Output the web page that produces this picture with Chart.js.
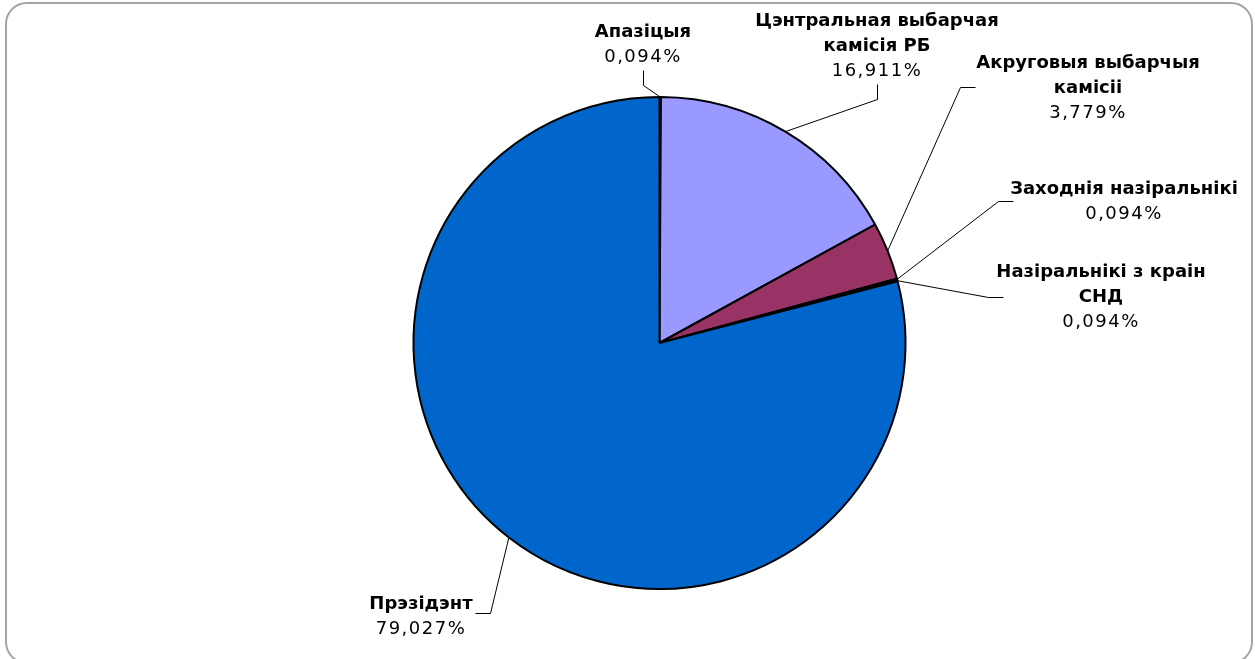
<!DOCTYPE html>
<html>
<head>
<meta charset="utf-8">
<script src="https://cdn.jsdelivr.net/npm/chart.js@4.4.1/dist/chart.umd.min.js"></script>
<style>
    body { margin: 0; background: #fff; overflow: hidden; }
    #wrap { position: relative; width: 1255px; height: 659px; }
    #frame {
        position: absolute; left: 5px; top: 2px; width: 1248px; height: 662px;
        border: 2px solid #a3a3a3; border-radius: 22px; box-sizing: border-box;
    }
    canvas { position: absolute; left: 0; top: 0; }
</style>
</head>
<body>
<div id="wrap">
    <div id="frame"></div>
    <canvas id="pieChart" width="1255" height="659"></canvas>
</div>
<script>
// Дадзеныя
const categories = [
    'Апазіцыя',
    'Цэнтральная выбарчая камісія РБ',
    'Акруговыя выбарчыя камісіі',
    'Заходнія назіральнікі',
    'Назіральнікі з краін СНД',
    'Прэзідэнт'
];
const shares = [0.094, 16.911, 3.779, 0.094, 0.094, 79.027];
const sliceColors = ['#FFFFCC', '#9999FF', '#993366', '#660066', '#800080', '#0066CC'];

// Размяшчэнне подпісаў: цэнтр першага радка, злом лініі, канец лініі, шырыня пераносу
const labelLayout = [
    { x: 643, y: 32, elbow: [643, 85], end: [643, 70], wrap: 200 },
    { x: 877, y: 21, elbow: [877, 99], end: [877, 84], wrap: 250 },
    { x: 1088, y: 63, elbow: [960, 87], end: [975, 87], wrap: 240 },
    { x: 1124, y: 189, elbow: [998, 201], end: [1013, 201], wrap: 260 },
    { x: 1101, y: 272, elbow: [988, 297], end: [1003, 297], wrap: 215 },
    { x: 421, y: 604, elbow: [490, 613], end: [475, 613], wrap: 200 }
];
const lineHeight = 25;
const boldFont = 'bold 18px "DejaVu Sans", Verdana, sans-serif';
const normalFont = '18px "DejaVu Sans", Verdana, sans-serif';

function formatShare(v) {
    return v.toFixed(3).replace('.', ',') + '%';
}

function wrapText(ctx, text, maxWidth) {
    const words = text.split(' ');
    const lines = [];
    let line = '';
    words.forEach(word => {
        const test = line ? line + ' ' + word : word;
        if (line && ctx.measureText(test).width > maxWidth) {
            lines.push(line);
            line = word;
        } else {
            line = test;
        }
    });
    if (line) lines.push(line);
    return lines;
}

// Подпісы з лініямі-вынасамі
const leaderLabels = {
    id: 'leaderLabels',
    afterDatasetsDraw(chart) {
        const ctx = chart.ctx;
        const meta = chart.getDatasetMeta(0);
        ctx.save();
        meta.data.forEach((arc, i) => {
            const p = arc.getProps(['x', 'y', 'startAngle', 'endAngle', 'outerRadius'], true);
            const mid = (p.startAngle + p.endAngle) / 2;
            const ax = p.x + Math.cos(mid) * p.outerRadius;
            const ay = p.y + Math.sin(mid) * p.outerRadius;
            const lay = labelLayout[i];

            ctx.strokeStyle = '#000';
            ctx.lineWidth = 1;
            ctx.beginPath();
            ctx.moveTo(ax, ay);
            ctx.lineTo(lay.elbow[0] + 0.5, lay.elbow[1] + 0.5);
            ctx.lineTo(lay.end[0] + 0.5, lay.end[1] + 0.5);
            ctx.stroke();

            ctx.fillStyle = '#000';
            ctx.textAlign = 'center';
            ctx.textBaseline = 'middle';
            ctx.font = boldFont;
            ctx.letterSpacing = '0px';
            const lines = wrapText(ctx, categories[i], lay.wrap);
            lines.forEach((ln, k) => {
                ctx.fillText(ln, lay.x, lay.y + k * lineHeight);
            });
            ctx.font = normalFont;
            ctx.letterSpacing = '1.5px';
            ctx.fillText(formatShare(shares[i]), lay.x, lay.y + lines.length * lineHeight);
        });
        ctx.restore();
    }
};

const ctx = document.getElementById('pieChart').getContext('2d');
const pieChart = new Chart(ctx, {
    type: 'pie',
    data: {
        labels: categories,
        datasets: [{
            data: shares,
            backgroundColor: sliceColors,
            borderColor: '#000',
            borderWidth: 2
        }]
    },
    options: {
        responsive: false,
        animation: false,
        layout: {
            padding: { left: 412, right: 348, top: 96, bottom: 69 }
        },
        plugins: {
            legend: { display: false },
            tooltip: { enabled: false }
        }
    },
    plugins: [leaderLabels]
});
</script>
</body>
</html>
